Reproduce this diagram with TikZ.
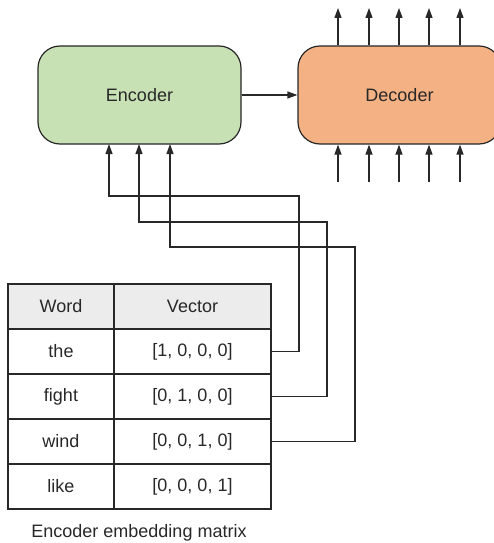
\documentclass[tikz,border=0pt]{standalone}
\usepackage{fontspec}
\setmainfont{Liberation Sans}
\usetikzlibrary{arrows.meta}
\definecolor{enc}{RGB}{199,224,180}
\definecolor{dec}{RGB}{244,177,131}
\definecolor{ln}{RGB}{40,40,40}
\definecolor{hdr}{RGB}{236,236,236}
\tikzset{
  box/.style={draw=ln, line width=1.2pt, rounded corners=22pt, minimum width=203pt, minimum height=98pt, inner sep=0pt, font=\fontsize{18}{21}\selectfont, text=ln},
  cell/.style={draw=ln, line width=1.2pt, minimum height=45pt, inner sep=0pt, font=\fontsize{18}{21}\selectfont, text=ln},
  wcell/.style={cell, minimum width=106pt},
  vcell/.style={cell, minimum width=157pt},
  arr/.style={draw=ln, line width=1.2pt, -{Triangle[length=10pt,width=7pt]}},
  conn/.style={draw=ln, line width=1.2pt}
}
\begin{document}
\begin{tikzpicture}[x=1pt,y=-1pt]
\useasboundingbox (0,0) rectangle (494,543);
\node[box, fill=enc] (enc) at (139.5,95) {Encoder};
\node[box, fill=dec] (dec) at (399.5,95) {Decoder};
\draw[arr] (enc.east) -- (dec.west);
% decoder inputs/outputs
\foreach \i/\x in {1/338,2/369,3/399,4/429,5/460}{
  \coordinate (dt\i) at (\x,8);
  \coordinate (db\i) at (\x,182);
  \draw[arr] (dec.north -| dt\i) -- (dt\i);
  \draw[arr] (db\i) -- (dec.south -| db\i);
}
% table
\node[wcell, fill=hdr] (w0) at (61,306.5) {Word};
\node[vcell, fill=hdr] (v0) at (192.5,306.5) {Vector};
\node[wcell] (w1) at (61,351.5) {the};
\node[vcell] (v1) at (192.5,351.5) {[1, 0, 0, 0]};
\node[wcell] (w2) at (61,396.5) {fight};
\node[vcell] (v2) at (192.5,396.5) {[0, 1, 0, 0]};
\node[wcell] (w3) at (61,441.5) {wind};
\node[vcell] (v3) at (192.5,441.5) {[0, 0, 1, 0]};
\node[wcell] (w4) at (61,486.5) {like};
\node[vcell] (v4) at (192.5,486.5) {[0, 0, 0, 1]};
\node[font=\fontsize{18}{21}\selectfont, text=ln] (cap) at (139,533) {Encoder embedding matrix};
% connectors
\coordinate (c1) at (299,196);
\coordinate (c2) at (327,222);
\coordinate (c3) at (355,247);
\coordinate (e1) at (109,144);
\coordinate (e2) at (139,144);
\coordinate (e3) at (170,144);
\draw[arr] (v1.east) -| (c1) -| (e1);
\draw[arr] (v2.east) -| (c2) -| (e2);
\draw[arr] (v3.east) -| (c3) -| (e3);
\end{tikzpicture}
\end{document}
